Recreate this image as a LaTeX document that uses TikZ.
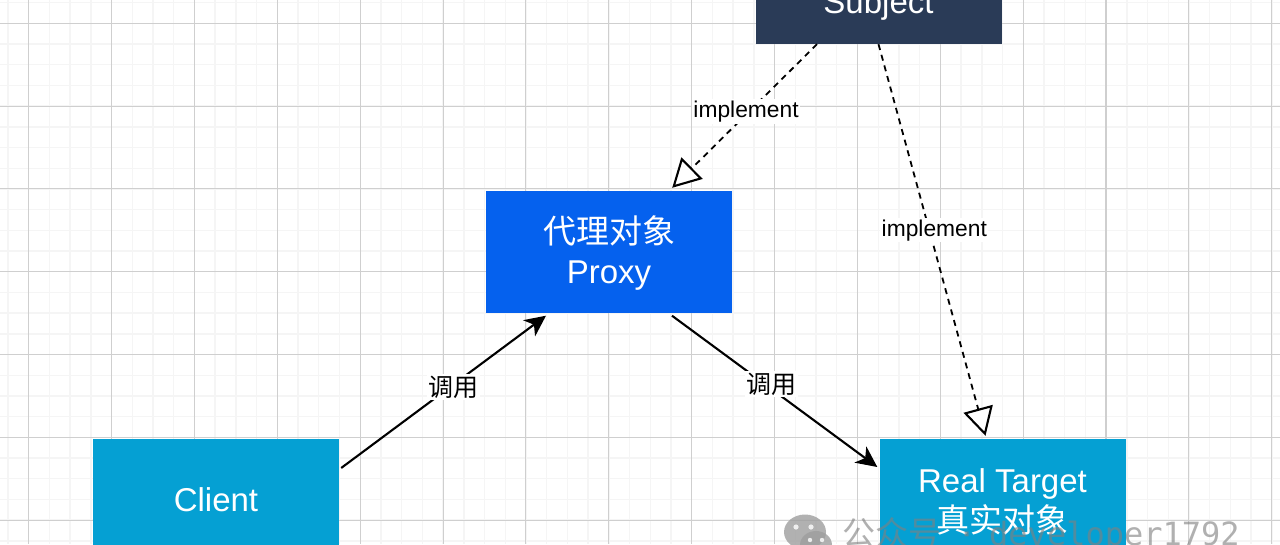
\documentclass[tikz,border=0pt]{standalone}
\usepackage{fontspec}
\setmainfont{Liberation Sans}
\newfontfamily\cjk{Noto Sans CJK SC}
\newfontfamily\wmono{DejaVu Sans Mono}
\usetikzlibrary{arrows.meta}
\definecolor{navy}{HTML}{2A3B57}
\definecolor{royal}{HTML}{0561EE}
\definecolor{teal}{HTML}{05A0D3}
\newcommand{\lowered}[2]{\raisebox{-#1}[\height][\depth]{#2}}
\tikzset{
  box/.style={minimum width=246pt,minimum height=122pt,inner sep=0pt,text=white,align=center,
    font=\fontsize{33}{40}\selectfont},
  lbl/.style={fill=white,inner sep=1.5pt,text=black},
  latin/.style={font=\fontsize{22.8}{26}\selectfont},
  han/.style={font=\fontsize{25}{28}\selectfont\cjk},
  call/.style={line width=2.1pt,draw=black,-{Stealth[length=21pt,width=20pt,inset=6pt]}},
  impl/.style={line width=1.8pt,draw=black,dash pattern=on 6pt off 5pt,
    -{Triangle[length=28pt,width=30pt,fill=white,line width=2.1pt,sep=0pt]}},
  wm/.style={text=gray,opacity=.62,inner sep=0pt,anchor=base west}
}
\begin{document}
\begin{tikzpicture}[x=1pt,y=-1pt]
\useasboundingbox (0,0) rectangle (1280,544);
\clip (0,0) rectangle (1280,544);
\fill[white] (0,0) rectangle (1280,544);
% grid
\foreach \i in {-1,...,61} {
  \pgfmathsetmacro\gx{28.7+20.72*\i}
  \draw[line width=1.4pt,color=black!4] (\gx,0) -- (\gx,544);
}
\foreach \i in {-1,...,26} {
  \pgfmathsetmacro\gy{23.3+20.7*\i}
  \draw[line width=1.4pt,color=black!4] (0,\gy) -- (1280,\gy);
}
\foreach \i in {0,...,15} {
  \pgfmathsetmacro\gx{28.7+82.87*\i}
  \draw[line width=1.1pt,color=black!19] (\gx,0) -- (\gx,544);
}
\foreach \i in {0,...,6} {
  \pgfmathsetmacro\gy{23.3+82.8*\i}
  \draw[line width=1.1pt,color=black!19] (0,\gy) -- (1280,\gy);
}
% boxes
\node[box,fill=navy] (subject) at (878.5,-17.5) {\phantom{Xg}\\\lowered{3pt}{Subject}};
\node[box,fill=royal] (proxy) at (609,251.5) {\lowered{1.5pt}{\cjk 代理对象}\\\lowered{1pt}{Proxy}};
\node[box,fill=teal] (client) at (216,500) {Client};
\node[box,fill=teal] (real) at (1002.5,500) {\lowered{2pt}{Real Target}\\\lowered{2pt}{\cjk 真实对象}};
% connectors
\draw[call] ([xshift=2pt,yshift=32pt]client.east) -- node[lbl,han,pos=.546,yshift=-2pt] {调用} ([xshift=-63pt,yshift=-3pt]proxy.south);
\draw[call] ([xshift=63pt,yshift=-3pt]proxy.south) -- node[lbl,han,pos=.485,yshift=5pt] {调用} ([xshift=-2pt,yshift=33pt]real.west);
\draw[impl] ([xshift=-61.5pt,yshift=-.5pt]subject.south) -- node[lbl,latin,pos=.49,yshift=3pt] {implement} ([xshift=-60pt,yshift=2.5pt]proxy.north east);
\draw[impl] ([xshift=0pt,yshift=-.5pt]subject.south) -- node[lbl,latin,pos=.475,xshift=5pt] {implement} ([xshift=-17pt,yshift=3pt]real.north);
% watermark
\begin{scope}[opacity=.8]
\fill[black!38] (805,532) ellipse (21pt and 17.5pt);
\fill[black!38] (816,545) ellipse (16pt and 14pt);
\fill[white] (796,527) circle (2.6pt) (811,527) circle (2.6pt);
\fill[white] (810,540) circle (2.2pt) (822,540) circle (2.2pt);
\end{scope}
\node[wm,font=\fontsize{33}{36}\selectfont\cjk] (wma) at (842,545) {公众号};
\node[wm,font=\fontsize{32}{36}\selectfont\wmono] (wmb) at (957,545) {·};
\node[wm,font=\fontsize{32}{36}\selectfont\wmono] (wmc) at (989,545) {developer1792};
\end{tikzpicture}
\end{document}
